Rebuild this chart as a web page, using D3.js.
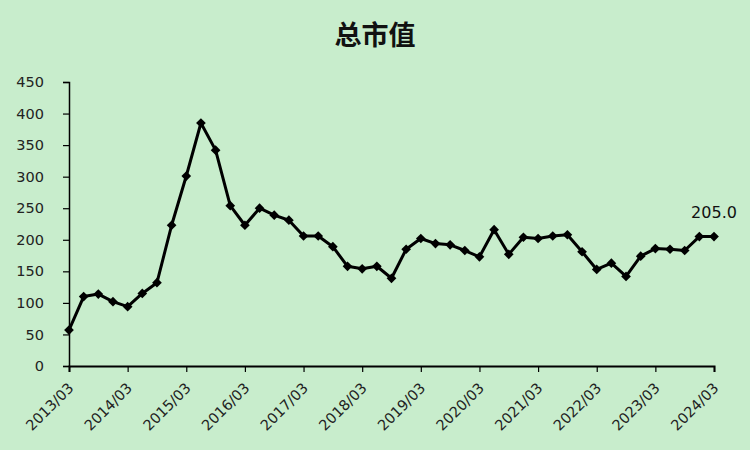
<!DOCTYPE html>
<html><head><meta charset="utf-8">
<script src="https://cdn.jsdelivr.net/npm/d3@7"></script>
<style>body{margin:0;background:#c8edcc;}svg{display:block;}</style>
</head><body>
<svg id="c" width="750" height="450"></svg>
<script>
const title = "总市值";
const startYear = 2013, endYear = 2024;
const values = [57,110,114,102,94,115,132,223,301,385,342,254,223,250,239,231,206,206,189,158,154,158,139,185,202,194,192,183,173,216,177,204,202,206,208,181,153,163,142,174,186,185,183,205,205];
const yTicks = [0,50,100,150,200,250,300,350,400,450];
const lastLabel = "205.0";

const svg = d3.select("#c");
svg.append("rect").attr("width",750).attr("height",450).attr("fill","#c8edcc");
const m = {l:69, r:714, t:82, b:366};
const x = d3.scaleLinear().domain([0, values.length-1]).range([m.l, m.r]);
const y = d3.scaleLinear().domain([0,450]).range([m.b, m.t]);

svg.append("text").attr("x",375).attr("y",45).attr("text-anchor","middle")
  .attr("font-family","Noto Sans CJK SC").attr("font-weight","bold").attr("font-size",27).attr("fill","#111").text(title);

const yAxis = d3.axisLeft(y).tickValues(yTicks).tickSize(6).tickPadding(19);
const gy = svg.append("g").attr("transform",`translate(${m.l},0)`).call(yAxis);
gy.attr("font-family","DejaVu Sans").attr("font-size",14.5);
gy.select(".domain").attr("stroke","#000").attr("stroke-width",1.5);
gy.selectAll(".tick line").attr("stroke","#000").attr("stroke-width",1.2);
gy.selectAll("text").style("font-family","DejaVu Sans").style("font-size","14.5px").attr("fill","#222");

const yearIdx = d3.range(startYear, endYear+1).map((yr,i)=>i*4);
const xAxis = d3.axisBottom(x).tickValues(yearIdx).tickSize(6).tickFormat(i=>`${startYear + i/4}/03`);
const gx = svg.append("g").attr("transform",`translate(0,${m.b})`).call(xAxis);
gx.attr("font-family","DejaVu Sans").attr("font-size",14.5);
gx.select(".domain").attr("stroke","#000").attr("stroke-width",2);
gx.selectAll(".tick line").attr("stroke","#000").attr("stroke-width",1.2);
gx.selectAll("text").style("font-family","DejaVu Sans").style("font-size","14.5px").attr("fill","#222")
  .attr("text-anchor","end").attr("dy",null).attr("y",0)
  .attr("transform","translate(5,23) rotate(-45)");

const line = d3.line().x((d,i)=>x(i)).y(d=>y(d));
svg.append("path").datum(values).attr("d",line).attr("fill","none").attr("stroke","#000").attr("stroke-width",3).attr("stroke-linejoin","round");
svg.selectAll(".pt").data(values).join("path").attr("class","pt")
  .attr("transform",(d,i)=>`translate(${x(i)},${y(d)})`)
  .attr("d",d3.symbol(d3.symbolDiamond2, 60)).attr("fill","#000");

svg.append("text").attr("x",x(values.length-1)).attr("y",y(values[values.length-1])-19)
  .attr("text-anchor","middle").attr("font-family","DejaVu Sans").attr("font-size",16).attr("fill","#111").text(lastLabel);
</script>
</body></html>
